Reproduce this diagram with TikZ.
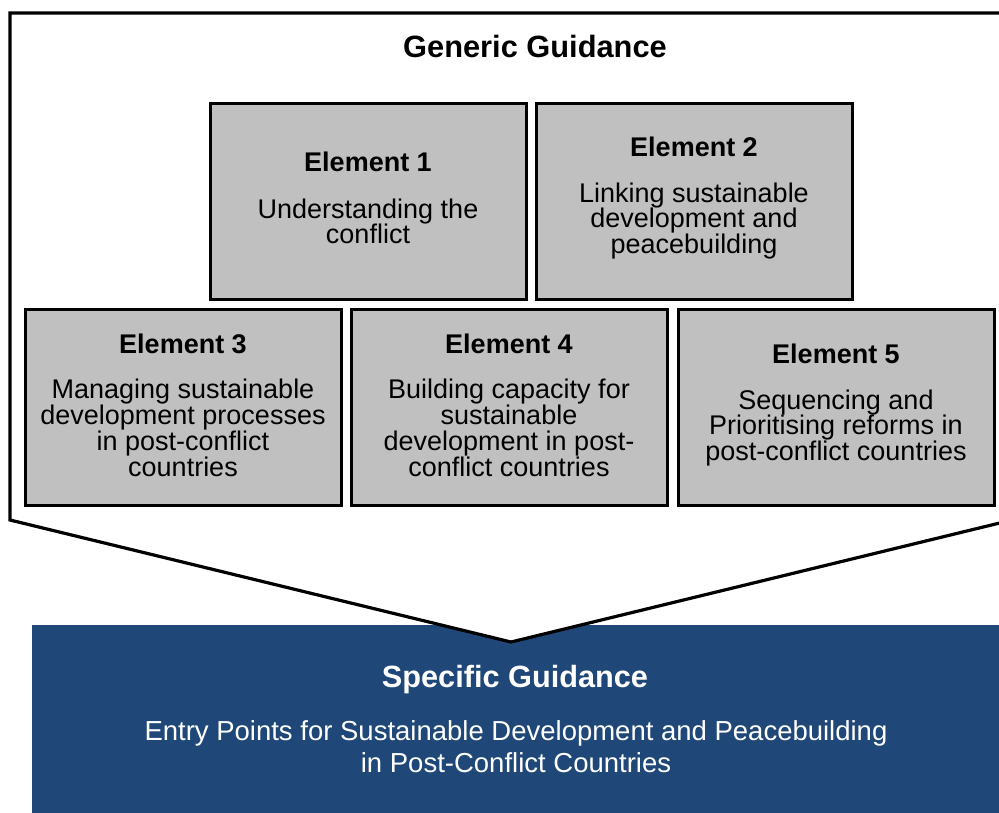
\documentclass[tikz,border=0pt]{standalone}
\usepackage{fontspec}
\setmainfont{Liberation Sans}
\definecolor{elgray}{HTML}{C0C0C0}
\definecolor{specblue}{HTML}{1F4777}
\begin{document}
\begin{tikzpicture}[x=1pt,y=-1pt,
  frame/.style={draw=black,line width=3.2pt,fill=white,line join=miter},
  elbox/.style={draw=black,line width=3pt,fill=elgray,minimum width=316pt,minimum height=196pt,inner sep=0pt},
  eltext/.style={inner sep=0pt,align=center,text=black,font=\fontsize{27}{25.8}\selectfont},
  specbox/.style={fill=specblue,draw=none,minimum width=980pt,minimum height=200pt,inner sep=0pt},
  spectext/.style={text=white,align=center}
]
\useasboundingbox (0,0) rectangle (999,812);
\clip (0,0) rectangle (999,812);
\node[specbox] (spec) at (522,725) {};
\coordinate (tl) at (10,13);
\coordinate (tr) at (1012,13);
\coordinate (br) at (1012,520);
\coordinate (apex) at (511,642);
\coordinate (bl) at (10,520);
\draw[frame] (tl) -- (tr) -- (br) -- (apex) -- (bl) -- cycle;
\node[font=\fontsize{30.8}{31}\selectfont\bfseries] (generic) at (535,46) {Generic Guidance};
\node[elbox] (e1) at (368,201) {};
\node[elbox] (e2) at (694,201) {};
\node[elbox] (e3) at (183,407.5) {};
\node[elbox] (e4) at (509,407.5) {};
\node[elbox] (e5) at (836,407.5) {};
\node[eltext] (e1t) at (368,198) {\textbf{Element 1}\\[21pt]Understanding the\\conflict};
\node[eltext] (e2t) at (694,198) {\textbf{Element 2}\\[20pt]Linking sustainable\\development and\\peacebuilding};
\node[eltext] (e3t) at (183,405) {\textbf{Element 3}\\[20pt]Managing sustainable\\development processes\\in post-conflict\\countries};
\node[eltext] (e4t) at (509,405) {\textbf{Element 4}\\[20pt]Building capacity for\\sustainable\\development in post-\\conflict countries};
\node[eltext] (e5t) at (836,405) {\textbf{Element 5}\\[20pt]Sequencing and\\Prioritising reforms in\\post-conflict countries};
\node[spectext,font=\fontsize{30.7}{31}\selectfont\bfseries] (spechead) at (515,680) {Specific Guidance};
\node[spectext,font=\fontsize{27.5}{32}\selectfont] (specbody) at (516,747) {Entry Points for Sustainable Development and Peacebuilding\\in Post-Conflict Countries};
\end{tikzpicture}
\end{document}
